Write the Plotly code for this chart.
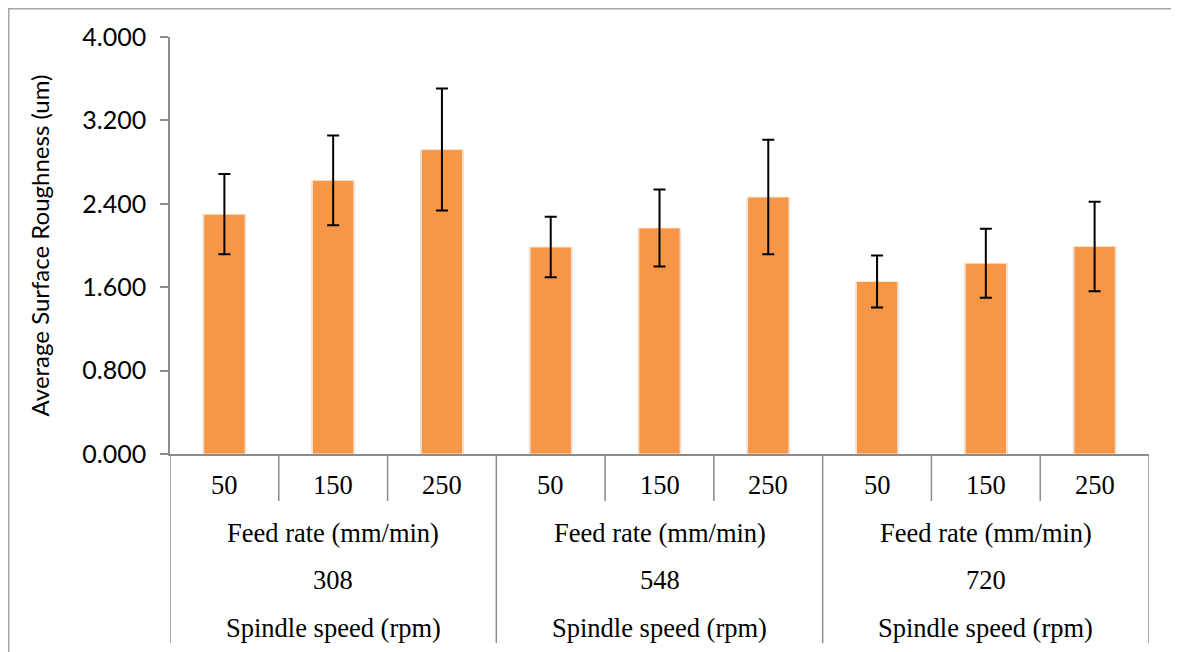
import plotly.graph_objects as go

# ---- data ----
spindle_speeds = ["308", "548", "720"]
feed_rates = ["50", "150", "250"]
roughness = [2.300, 2.625, 2.920, 1.985, 2.168, 2.465, 1.655, 1.830, 1.990]
errors = [0.385, 0.430, 0.585, 0.290, 0.370, 0.550, 0.250, 0.330, 0.430]
y_ticks = [0.0, 0.8, 1.6, 2.4, 3.2, 4.0]
y_title = "Average Surface Roughness (um)"
feed_label = "Feed rate (mm/min)"
spindle_label = "Spindle speed (rpm)"

n = len(spindle_speeds) * len(feed_rates)
xpos = list(range(n))
orange = "#F79646"
grid_gray = "#8C8C8C"

# page body has an 8px margin, so figure coords = page coords - 8
OFF = 8
W, H = 1179 - OFF, 652 - OFF
L, R, T, B = 170 - OFF, 30, 37 - OFF, 198
plot_h = H - T - B
plot_w = W - L - R
axis_y_page = 454

fig = go.Figure()
# soft shadow behind bars
fig.add_trace(go.Bar(
    x=xpos, y=roughness, width=0.405,
    marker=dict(color="#E4E4E4", line=dict(width=0)),
    hoverinfo="skip", showlegend=False,
))
fig.add_trace(go.Bar(
    x=xpos, y=roughness, width=0.38,
    marker=dict(color=orange, line=dict(color="#FBE3CF", width=1)),
    error_y=dict(type="data", array=errors, visible=True,
                 color="black", thickness=2, width=6),
    showlegend=False,
))

def py(pix):
    return (axis_y_page - pix) / plot_h

def px(pix):
    return (pix - 170) / plot_w

shapes = []
annotations = []
ng = len(feed_rates)
serif = dict(family="Liberation Serif", size=26.5, color="black")
# separators
for k in range(n + 1):
    y_end = py(643) if k % ng == 0 else py(501)
    shapes.append(dict(type="line", xref="x", yref="paper",
                       x0=k - 0.5, x1=k - 0.5, y0=0, y1=y_end,
                       line=dict(color=grid_gray, width=1.5)))
for gi, sp in enumerate(spindle_speeds):
    for fi, fr in enumerate(feed_rates):
        idx = gi * ng + fi
        annotations.append(dict(x=idx, y=py(485), xref="x", yref="paper",
                                text=fr, showarrow=False, yanchor="middle", font=serif))
    center = gi * ng + (ng - 1) / 2
    annotations.append(dict(x=center, y=py(533), xref="x", yref="paper",
                            text=feed_label, showarrow=False, yanchor="middle", font=serif))
    annotations.append(dict(x=center, y=py(580), xref="x", yref="paper",
                            text=sp, showarrow=False, yanchor="middle", font=serif))
    annotations.append(dict(x=center, y=py(628), xref="x", yref="paper",
                            text=spindle_label, showarrow=False, yanchor="middle", font=serif))

# outer chart border
shapes.append(dict(type="rect", xref="paper", yref="paper",
                   x0=px(OFF + 0.75), x1=px(1177),
                   y0=py(680), y1=py(OFF + 0.75),
                   line=dict(color="#A6A6A6", width=1.5), layer="below"))

fig.update_layout(
    width=W, height=H,
    margin=dict(l=L, r=R, t=T, b=B),
    paper_bgcolor="white", plot_bgcolor="white",
    barmode="overlay",
    shapes=shapes, annotations=annotations,
    xaxis=dict(range=[-0.5, n - 0.5], showticklabels=False, ticks="",
               showgrid=False, zeroline=False, showline=True,
               linecolor=grid_gray, linewidth=1.5),
    yaxis=dict(range=[0, 4], tickvals=y_ticks,
               ticktext=[f"{v:.3f}" for v in y_ticks],
               ticks="outside", ticklen=8, tickcolor=grid_gray, tickwidth=1.5,
               ticklabelstandoff=9,
               showgrid=False, zeroline=False, showline=True,
               linecolor=grid_gray, linewidth=1.5,
               tickfont=dict(family="Lato", size=25, color="black"),
               title=dict(text=y_title, standoff=26,
                          font=dict(family="Lato", size=24, color="black"))),
)

fig.write_html("out.html")
